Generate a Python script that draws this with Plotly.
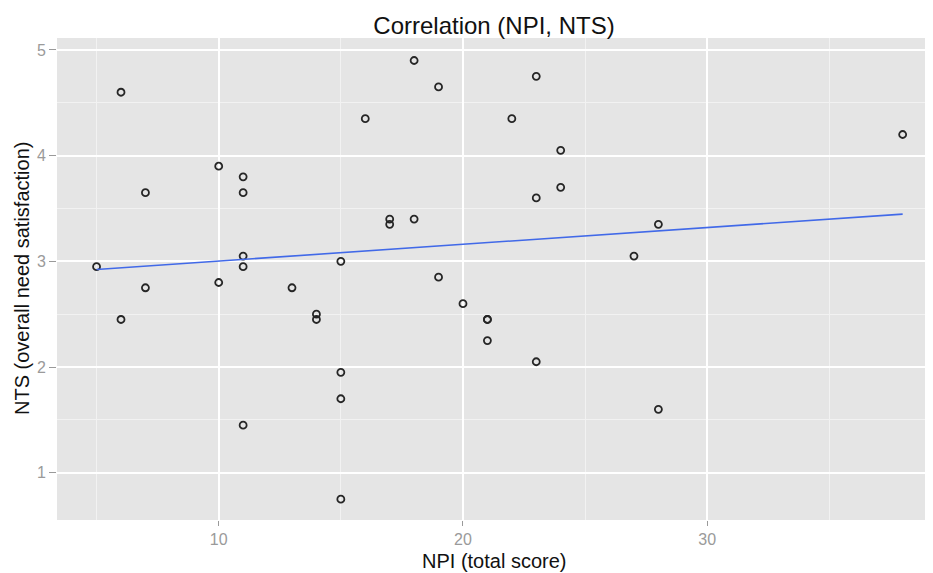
import numpy as np
import plotly.graph_objects as go

npi = [5, 6, 6, 7, 7, 10, 10, 11, 11, 11, 11, 11, 13, 14, 14, 15, 15, 15, 15, 16,
       17, 17, 18, 18, 19, 19, 20, 21, 21, 21, 22, 23, 23, 23, 24, 24, 27, 28, 28, 38]
nts = [2.95, 4.6, 2.45, 3.65, 2.75, 3.9, 2.8, 3.8, 3.65, 3.05, 2.95, 1.45, 2.75, 2.5, 2.45,
       3.0, 1.95, 1.7, 0.75, 4.35, 3.4, 3.35, 4.9, 3.4, 4.65, 2.85, 2.6, 2.45, 2.45, 2.25,
       4.35, 4.75, 3.6, 2.05, 4.05, 3.7, 3.05, 3.35, 1.6, 4.2]

x_ticks = [10, 20, 30]
y_ticks = [1, 2, 3, 4, 5]

slope, intercept = np.polyfit(npi, nts, 1)
fit_x = [min(npi), max(npi)]
fit_y = [slope * v + intercept for v in fit_x]

FONT = "Liberation Sans, Arial, sans-serif"

# page body has an 8px default margin; figure is sized to fit the window
W, H = 925, 565
L, T, R, B = 49, 30, 2, 53
ph = H - T - B
pw = W - L - R

fig = go.Figure()
fig.add_trace(go.Scatter(
    x=npi, y=nts, mode="markers",
    marker=dict(symbol="circle-open", size=7, color="#262626", line=dict(width=1.8)),
    showlegend=False, hoverinfo="x+y"))
fig.add_trace(go.Scatter(
    x=fit_x, y=fit_y, mode="lines",
    line=dict(color="#4169E8", width=1.6), showlegend=False))

fig.update_layout(
    width=W, height=H,
    margin=dict(l=L, r=R, t=T, b=B),
    paper_bgcolor="white", plot_bgcolor="#E5E5E5",
    font=dict(family=FONT),
    title=dict(text="Correlation (NPI, NTS)", x=0.5, xref="paper", xanchor="center",
               y=1 - 18 / H, yanchor="middle",
               font=dict(size=24, color="#111111", family=FONT)),
    xaxis=dict(range=[3.38, 39.16], tickvals=x_ticks, ticktext=[str(v) for v in x_ticks],
               showgrid=True, gridcolor="white", gridwidth=2,
               minor=dict(tickvals=[5, 15, 25, 35], showgrid=True, gridcolor="#F2F2F2", gridwidth=1),
               zeroline=False, showline=False,
               ticks="outside", ticklen=5, tickwidth=1.2, tickcolor="#9a9a9a",
               tickfont=dict(size=16, color="#9a9a9a", family=FONT)),
    yaxis=dict(range=[0.553, 5.113], tickvals=y_ticks, ticktext=[str(v) for v in y_ticks],
               showgrid=True, gridcolor="white", gridwidth=2,
               minor=dict(tickvals=[1.5, 2.5, 3.5, 4.5], showgrid=True, gridcolor="#F2F2F2", gridwidth=1),
               zeroline=False, showline=False,
               ticks="outside", ticklen=7, tickwidth=1.2, tickcolor="#9a9a9a",
               tickfont=dict(size=16, color="#9a9a9a", family=FONT)),
    annotations=[
        dict(text="NPI (total score)", x=0.5, xref="paper", y=-41 / ph, yref="paper",
             xanchor="center", yanchor="middle", showarrow=False,
             font=dict(size=20, color="#111111", family=FONT)),
        dict(text="NTS (overall need satisfaction)", x=-35 / pw, xref="paper",
             y=0.5, yref="paper", xanchor="center", yanchor="middle", textangle=-90,
             showarrow=False, font=dict(size=20, color="#111111", family=FONT)),
    ],
)

fig.write_html("out.html")
